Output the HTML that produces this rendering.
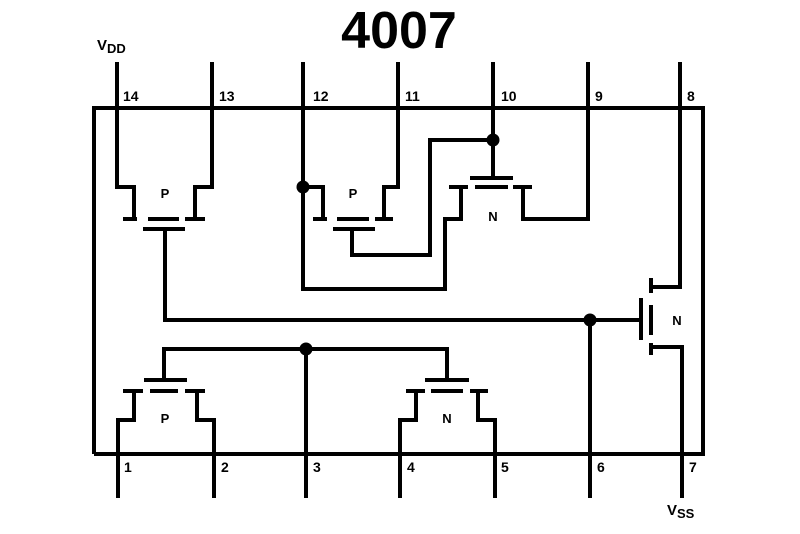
<!DOCTYPE html>
<html><head><style>
html,body{margin:0;padding:0;background:#fff;}
svg{display:block;}
text{font-family:"Liberation Sans",sans-serif;font-weight:bold;fill:#000;}
</style></head><body>
<svg width="800" height="534" viewBox="0 0 800 534">
<g stroke="#000" stroke-width="4" fill="none" stroke-linecap="butt">
<!-- box -->
<polyline points="94,454 94,108 703,108 703,454 94,454"/>
<!-- top pins -->
<line x1="117" y1="62" x2="117" y2="108"/>
<line x1="212" y1="62" x2="212" y2="108"/>
<line x1="303" y1="62" x2="303" y2="108"/>
<line x1="398" y1="62" x2="398" y2="108"/>
<line x1="493" y1="62" x2="493" y2="108"/>
<line x1="588" y1="62" x2="588" y2="108"/>
<line x1="680" y1="62" x2="680" y2="108"/>
<!-- bottom pins -->
<line x1="118" y1="454" x2="118" y2="498"/>
<line x1="214" y1="454" x2="214" y2="498"/>
<line x1="306" y1="454" x2="306" y2="498"/>
<line x1="400" y1="454" x2="400" y2="498"/>
<line x1="495" y1="454" x2="495" y2="498"/>
<line x1="590" y1="454" x2="590" y2="498"/>
<line x1="682" y1="454" x2="682" y2="498"/>

<!-- T1 P top-left -->
<polyline points="117,108 117,187 134,187 134,219"/>
<polyline points="212,108 212,187 195,187 195,219"/>
<line x1="123" y1="219" x2="137" y2="219"/>
<line x1="148" y1="219" x2="179" y2="219"/>
<line x1="185" y1="219" x2="205" y2="219"/>
<line x1="143" y1="229" x2="185" y2="229"/>
<polyline points="165,229 165,320 641,320"/>

<!-- T2 P top-middle -->
<polyline points="303,108 303,289 445,289 445,219 461,219 461,187"/>
<polyline points="303,187 323,187 323,219"/>
<line x1="313" y1="219" x2="327" y2="219"/>
<line x1="337" y1="219" x2="369" y2="219"/>
<line x1="375" y1="219" x2="393" y2="219"/>
<polyline points="398,108 398,187 384,187 384,219"/>
<line x1="333" y1="229" x2="375" y2="229"/>
<polyline points="352,229 352,255 430,255 430,140 493,140"/>

<!-- T3 N top -->
<line x1="493" y1="108" x2="493" y2="178"/>
<line x1="470" y1="178" x2="513" y2="178"/>
<line x1="449" y1="187" x2="468" y2="187"/>
<line x1="475" y1="187" x2="508" y2="187"/>
<line x1="513" y1="187" x2="532" y2="187"/>
<polyline points="523,187 523,219 588,219 588,108"/>

<!-- T4 N right -->
<polyline points="680,108 680,287 651,287"/>
<line x1="651" y1="278" x2="651" y2="293"/>
<line x1="651" y1="305" x2="651" y2="335"/>
<line x1="651" y1="343" x2="651" y2="355"/>
<line x1="641" y1="298" x2="641" y2="340"/>
<polyline points="651,347 682,347 682,454"/>
<line x1="590" y1="320" x2="590" y2="454"/>

<!-- bottom gate line -->
<polyline points="164,380 164,349 447,349 447,380"/>
<line x1="306" y1="349" x2="306" y2="454"/>

<!-- T5 P bottom -->
<line x1="144" y1="380" x2="187" y2="380"/>
<line x1="123" y1="391" x2="143" y2="391"/>
<line x1="150" y1="391" x2="178" y2="391"/>
<line x1="185" y1="391" x2="205" y2="391"/>
<polyline points="134,391 134,420 118,420 118,454"/>
<polyline points="197,391 197,420 214,420 214,454"/>

<!-- T6 N bottom -->
<line x1="425" y1="380" x2="469" y2="380"/>
<line x1="406" y1="391" x2="425" y2="391"/>
<line x1="431" y1="391" x2="463" y2="391"/>
<line x1="470" y1="391" x2="488" y2="391"/>
<polyline points="416,391 416,420 400,420 400,454"/>
<polyline points="478,391 478,420 495,420 495,454"/>
</g>
<g fill="#000">
<circle cx="303" cy="187" r="6.5"/>
<circle cx="493" cy="140" r="6.5"/>
<circle cx="590" cy="320" r="6.5"/>
<circle cx="306" cy="349" r="6.5"/>
</g>
<text x="399" y="48" font-size="52" text-anchor="middle">4007</text>
<text x="97" y="50" font-size="15">V<tspan font-size="13" dy="3">DD</tspan></text>
<text x="667" y="515" font-size="15">V<tspan font-size="13" dy="3">SS</tspan></text>
<g font-size="14">
<text x="123" y="101">14</text>
<text x="219" y="101">13</text>
<text x="313" y="101">12</text>
<text x="405" y="101">11</text>
<text x="501" y="101">10</text>
<text x="595" y="101">9</text>
<text x="687" y="101">8</text>
<text x="124" y="472">1</text>
<text x="221" y="472">2</text>
<text x="313" y="472">3</text>
<text x="407" y="472">4</text>
<text x="501" y="472">5</text>
<text x="597" y="472">6</text>
<text x="689" y="472">7</text>
</g>
<g font-size="13" text-anchor="middle">
<text x="165" y="198">P</text>
<text x="353" y="198">P</text>
<text x="493" y="221">N</text>
<text x="677" y="325">N</text>
<text x="165" y="423">P</text>
<text x="447" y="423">N</text>
</g>
</svg>
</body></html>
